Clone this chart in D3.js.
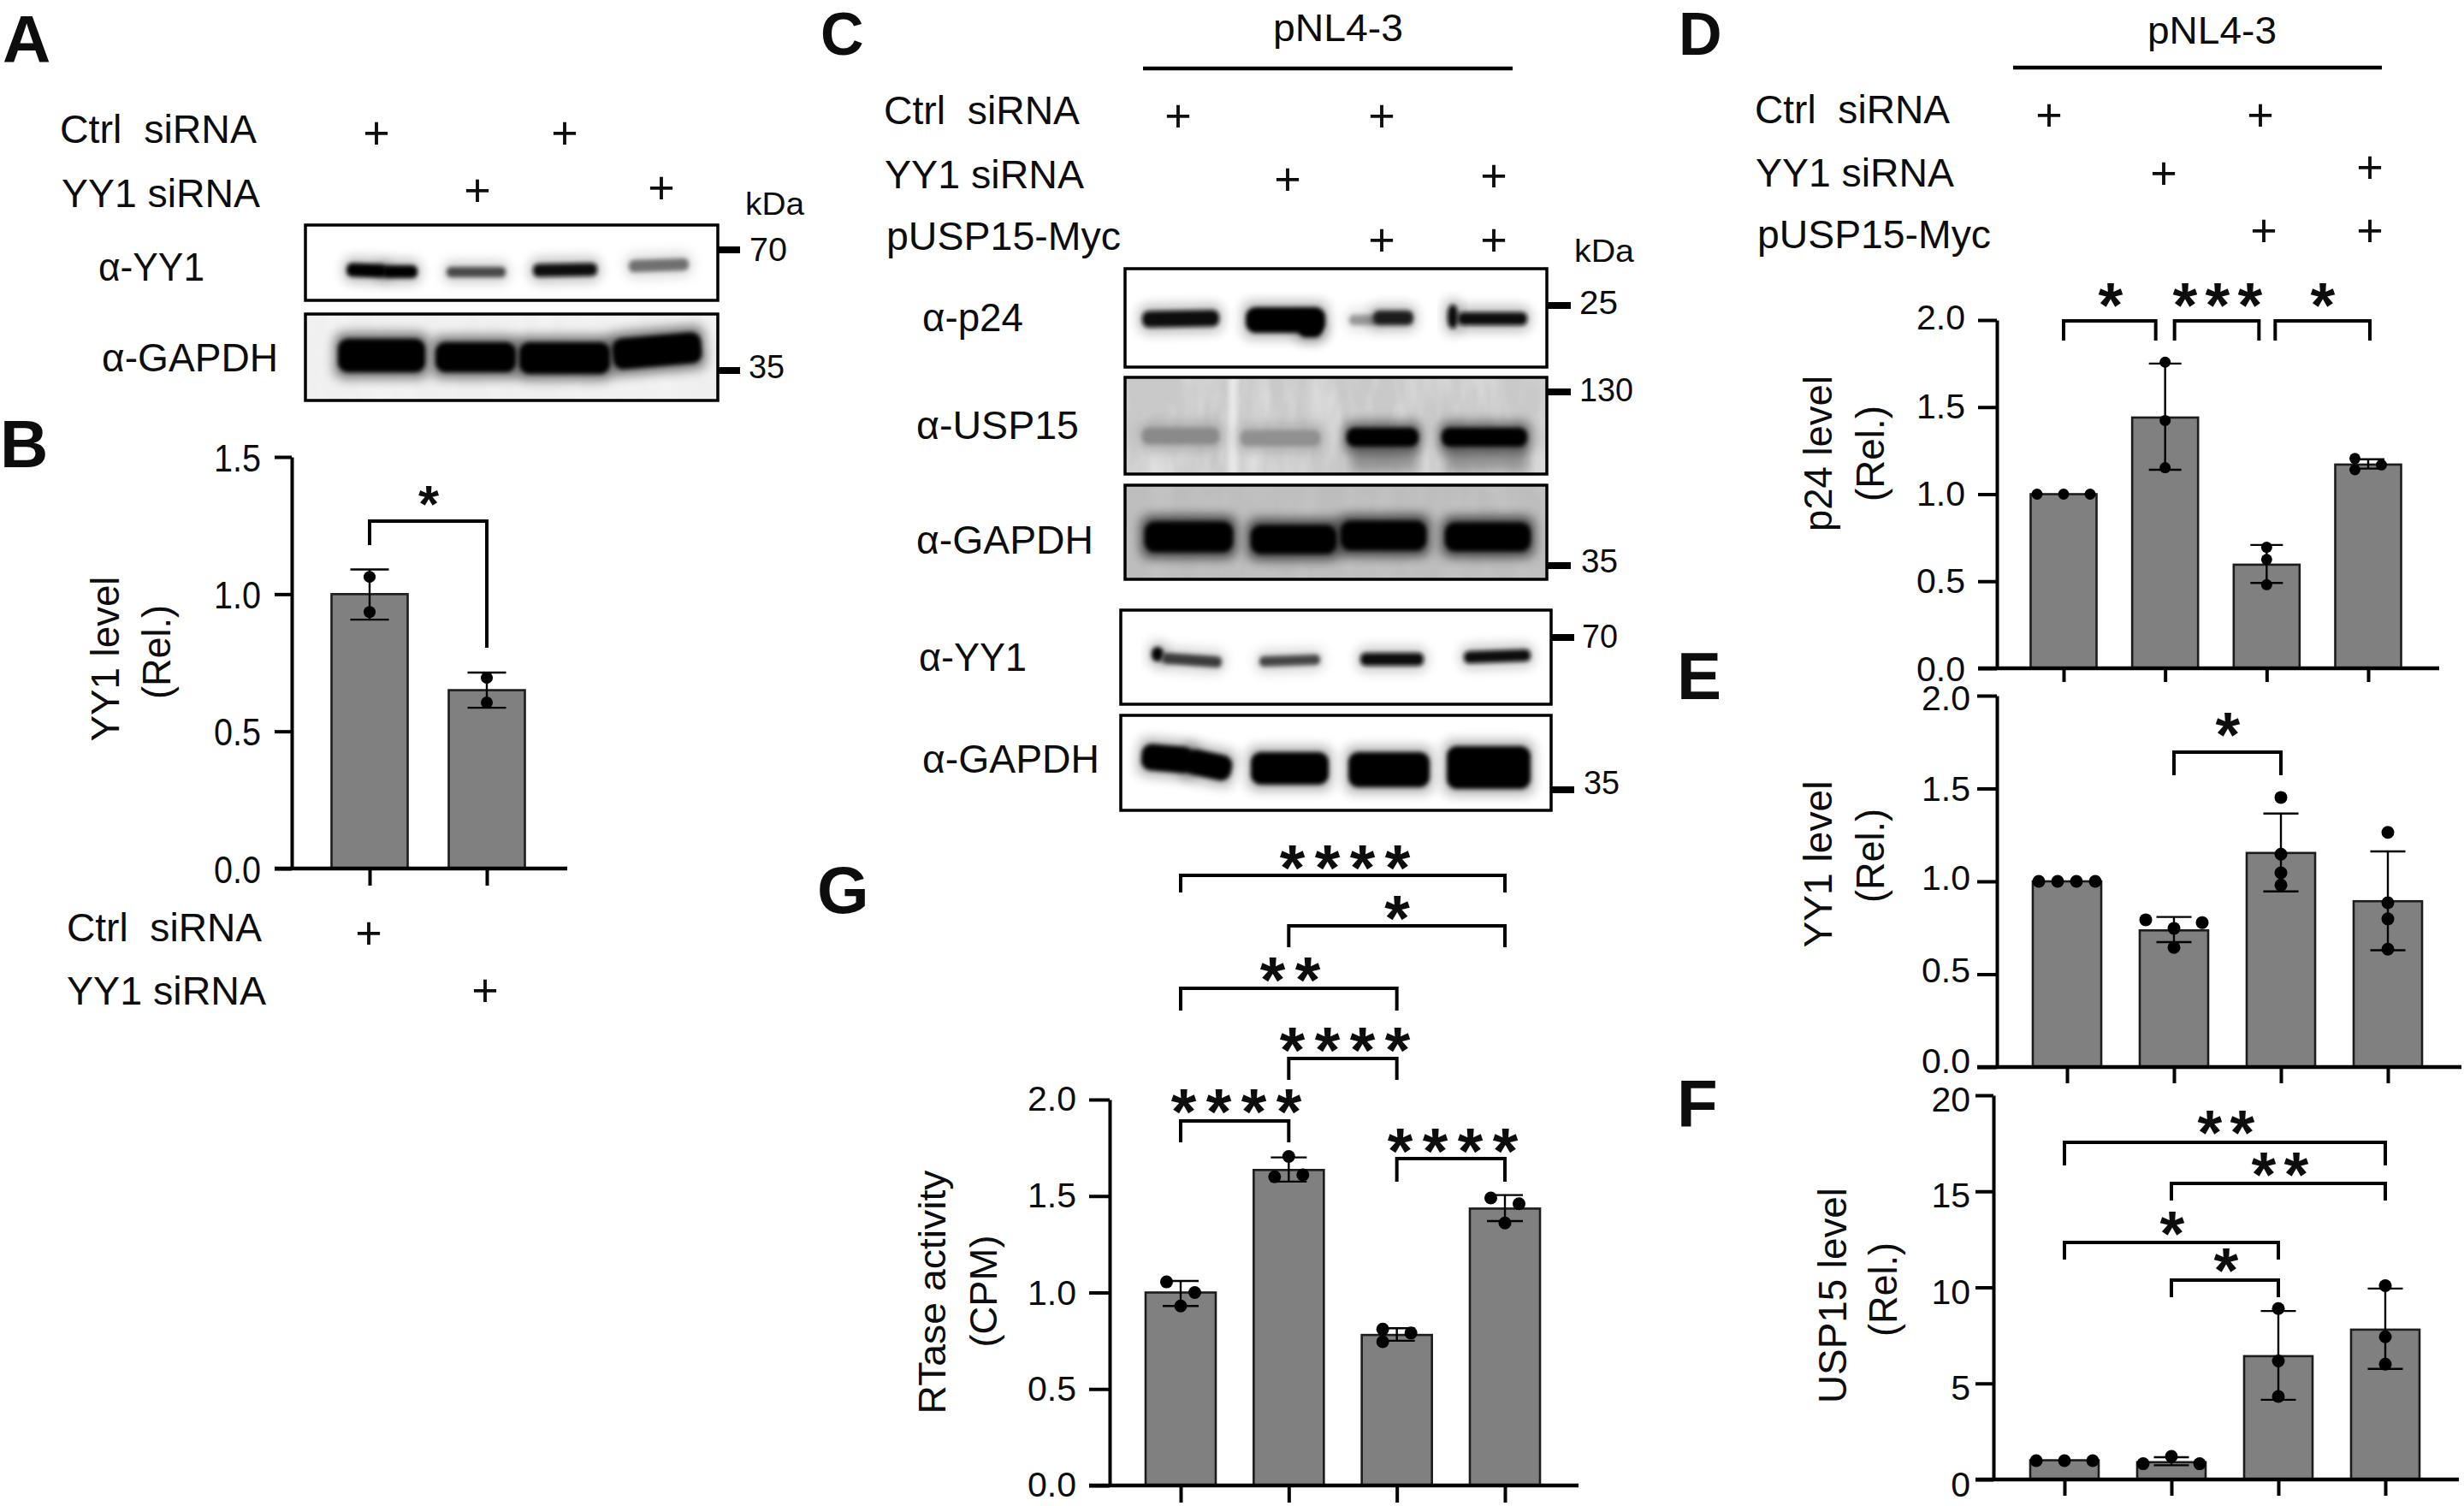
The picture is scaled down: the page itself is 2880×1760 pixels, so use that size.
<!DOCTYPE html>
<html><head><meta charset="utf-8">
<script src="https://cdn.jsdelivr.net/npm/d3@7/dist/d3.min.js"></script>
<style>html,body{margin:0;padding:0;background:#fff}svg{display:block}text{font-family:"Liberation Sans",Arial,sans-serif;fill:#0d0d0d;white-space:pre}</style>
</head><body>
<script>
// ---------- values ----------
const categories = ["Ctrl siRNA","YY1 siRNA","Ctrl + pUSP15","YY1 + pUSP15"];
const bCategories = categories.slice(0,2);

const bBars = [1.0, 0.65];
const bLow  = [0.907, 0.586];
const bHigh = [1.09, 0.714];
const bDots = [[1.063,0.935],[0.695,0.605]];

const dBars = [1.0, 1.44, 0.595, 1.17];
const dLow  = [1.0, 1.14, 0.49, 1.147];
const dHigh = [1.0, 1.75, 0.708, 1.2];
const dDots = [[1,1,1],[1.758,1.423,1.152],[0.695,0.625,0.48],[1.205,1.168,1.14]];
const dSlots = [[-1,0,1],[0,0,0],[0,0,0],[-0.5,0.5,-0.5]];

const eBars = [1.0, 0.736, 1.153, 0.893];
const eLow  = [1.0, 0.673, 0.946, 0.629];
const eHigh = [1.0, 0.808, 1.365, 1.161];
const eDots = [[1,1,1,1],[0.793,0.778,0.747,0.644],[1.452,1.146,1.046,0.98],[1.264,0.885,0.798,0.635]];
const eSlots = [[-1.5,-0.5,0.5,1.5],[-1.5,1.5,0,0],[0,0,0,0],[0,0,0,0]];

const fBars = [1.0, 0.9, 6.42, 7.8];
const fLow  = [1.0, 0.74, 4.15, 5.76];
const fHigh = [1.0, 1.16, 8.77, 9.94];
const fDots = [[0.98,0.98,0.98],[1.2,0.82,0.82],[8.9,6.17,4.32],[10.09,7.43,6.0]];
const fSlots = [[-1,0,1],[0,-1,1],[0,0,0],[0,0,0]];

const gBars = [1.0, 1.635, 0.78, 1.435];
const gLow  = [0.93, 1.575, 0.75, 1.37];
const gHigh = [1.06, 1.70, 0.815, 1.505];
const gDots = [[1.055,1.0,0.93],[1.705,1.6,1.61],[0.81,0.79,0.745],[1.49,1.46,1.36]];
const gSlots = [[-1,1,0],[0,-1,1],[-1,1,-1],[-1,1,0]];

const ticks15 = [0,0.5,1,1.5];
const ticks20 = [0,0.5,1,1.5,2];
const ticksF  = [0,5,10,15,20];

// band darkness per lane, grey value of each western-blot band
const aYY1Tone    = ["#050505","#4a4a4a","#0a0a0a","#707070"];
const cP24Tone    = ["#0c0c0c","#000000","#1a1a1a","#101010"];
const cUSP15Tone  = ["#8a8a8a","#909090","#030303","#050505"];
const cYY1Tone    = ["#3a3a3a","#444444","#0a0a0a","#0c0c0c"];

// ---------- page ----------
const W=2880,H=1760;
const svg=d3.select("body").append("svg").attr("width",W).attr("height",H).attr("viewBox",[0,0,W,H]);
svg.append("rect").attr("width",W).attr("height",H).attr("fill","#fff");
const defs=svg.append("defs");
[[1.6,"b1"],[2.6,"b3"],[7,"b7"],[12,"b12"]].forEach(([s,id])=>{
  defs.append("filter").attr("id",id).attr("x","-40%").attr("y","-80%").attr("width","180%").attr("height","260%")
    .append("feGaussianBlur").attr("stdDeviation",s);
});
const nf=defs.append("filter").attr("id","mottle").attr("x",0).attr("y",0).attr("width","100%").attr("height","100%");
nf.append("feTurbulence").attr("type","fractalNoise").attr("baseFrequency","0.035 0.012").attr("numOctaves",3).attr("seed",7);
nf.append("feColorMatrix").attr("type","matrix").attr("values","0 0 0 0 1  0 0 0 0 1  0 0 0 0 1  1.6 0 0 0 -0.55");

function text(s,x,y,size,width,o={}){
  const t=svg.append("text").attr("x",x).attr("y",y).attr("font-size",size).text(s);
  if(width){t.attr("textLength",width).attr("lengthAdjust","spacingAndGlyphs");}
  if(o.anchor)t.attr("text-anchor",o.anchor);
  if(o.weight)t.attr("font-weight",o.weight);
  return t;
}
function vtext(s,xBase,yCenter,size,length){
  const t=svg.append("text").attr("transform",`translate(${xBase},${yCenter}) rotate(-90)`)
    .attr("text-anchor","middle").attr("font-size",size).text(s);
  if(length)t.attr("textLength",length).attr("lengthAdjust","spacingAndGlyphs");
  return t;
}
function plus(cx,cy){ const fs=54; svg.append("text").attr("x",cx).attr("y",cy+fs*0.352).attr("text-anchor","middle").attr("font-size",fs).text("+"); }
function stars(s,cx,cy,fs,spacing){
  const adv=fs*0.389, ls=spacing-adv;
  svg.append("text").attr("x",cx+ (s.length>1?ls/2:0)).attr("y",cy+fs*0.51).attr("text-anchor","middle")
    .attr("font-size",fs).attr("font-weight","bold").style("letter-spacing",s.length>1?ls+"px":null).text(s);
}
function rule(x0,x1,y,w){ svg.append("line").attr("x1",x0).attr("x2",x1).attr("y1",y).attr("y2",y).attr("stroke","#000").attr("stroke-width",w); }

// ---------- panel letters ----------
[["A",3,73,78],["B",0,546,78],["C",959,63.5,70],["D",1962,63.5,70],["E",1960,817,78],["F",1960,1317,78],["G",955,1067,78]]
 .forEach(([l,x,y,fs])=>text(l,x,y,fs,null,{weight:"bold"}));

// ---------- treatment rows ----------
const rows=[
 ["Ctrl  siRNA",70,167,230],["YY1 siRNA",72,242,232],
 ["Ctrl  siRNA",78,1100,228],["YY1 siRNA",78,1174,233],
 ["Ctrl  siRNA",1033,145,229],["YY1 siRNA",1034,220,233],["pUSP15-Myc",1036,292,274],
 ["Ctrl  siRNA",2051,144,228],["YY1 siRNA",2052,218,232],["pUSP15-Myc",2054,290,273]];
rows.forEach(([s,x,y,w])=>text(s,x,y,46,w));
[[440,155],[660,155],[558,222],[773,219],
 [431,1090],[567,1157],
 [1377,135],[1615,135],[1505,209],[1746,205],[1615,280],[1746,280],
 [2395,134],[2642,134],[2529,202],[2770,195],[2646,269],[2770,269]].forEach(p=>plus(...p));
text("pNL4-3",1488,48,44,152); rule(1336,1768,80,4.5);
text("pNL4-3",2510,51,44,151); rule(2353,2784,79,4.5);

// ---------- blots ----------
const blots=[
 {box:[357,263,839,351],bg:"#ffffff",tone:aYY1Tone,bands:[[405,452,308,324,0,2],[447,488,310,325,0,0],[522,591,312,324,1,0],[623,698,308,323,2,-1],[735,805,303,317,3,-2]],h:.25},
 {box:[357,367,839,468],bg:"#efefef",noise:.35,bands:[[395,497,396,435,"#000",0],[509,603,400,435,"#000",0],[607,713,400,437,"#000",0],[716,820,392,428,"#000",-5]],h:.55},
 {box:[1315,314,1808,429],bg:"#ffffff",tone:cP24Tone,bands:[[1335,1425,363,382,0,-1],[1456,1549,359,389,1,0],[1518,1545,375,394,1,0],[1577,1610,368,380,"#999",0],[1605,1652,363,380,2,0],[1692,1704,356,384,3,0],[1704,1785,365,380,3,0]],h:.28},
 {box:[1315,441,1808,554],bg:"#c9c9c9",noise:.5,streak:[1441,"#e8e8e8"],smear:[[1578,1658,520,552],[1690,1785,520,552]],tone:cUSP15Tone,bands:[[1335,1425,500,519,0,0],[1450,1543,503,521,1,0],[1574,1658,500,522,2,0],[1685,1785,500,522,3,0]],h:.55},
 {box:[1315,567,1808,677],bg:"#bdbdbd",noise:.12,bands:[[1338,1441,610,645,"#000",0],[1462,1562,614,647,"#000",0],[1567,1667,609,643,"#000",0],[1689,1789,611,644,"#000",0]],h:.7},
 {box:[1310,713,1813,823],bg:"#ffffff",tone:cYY1Tone,bands:[[1346,1360,756,773,"#000",0],[1358,1428,765,778,0,4],[1472,1543,766,778,1,-2],[1590,1664,763,778,2,0],[1711,1789,760,774,3,-2]],h:.22},
 {box:[1310,836,1813,947],bg:"#ffffff",bands:[[1334,1395,871,902,"#000",5],[1385,1440,879,909,"#000",12],[1462,1553,879,917,"#000",0],[1576,1671,879,920,"#000",0],[1691,1789,872,922,"#000",0]],h:.3}
];
blots.forEach((b,i)=>{
  const [x0,y0,x1,y1]=b.box;
  defs.append("clipPath").attr("id","clip"+i).append("rect").attr("x",x0).attr("y",y0).attr("width",x1-x0).attr("height",y1-y0);
  const g=svg.append("g").attr("clip-path",`url(#clip${i})`);
  g.append("rect").attr("x",x0).attr("y",y0).attr("width",x1-x0).attr("height",y1-y0).attr("fill",b.bg);
  if(b.noise) g.append("rect").attr("x",x0).attr("y",y0).attr("width",x1-x0).attr("height",y1-y0).attr("filter","url(#mottle)").attr("opacity",b.noise);
  if(b.streak) g.append("rect").attr("x",b.streak[0]-5).attr("y",y0).attr("width",10).attr("height",y1-y0).attr("fill",b.streak[1]).attr("filter","url(#b3)");
  (b.smear||[]).forEach(s=>g.append("rect").attr("x",s[0]).attr("y",s[2]).attr("width",s[1]-s[0]).attr("height",s[3]-s[2]).attr("fill","#777").attr("opacity",.65).attr("filter","url(#b7)"));
  b.bands.forEach(([a,c,d,e,t,rot])=>{
    const fill=typeof t==="number"?b.tone[t]:t, cx=(a+c)/2, cy=(d+e)/2, tr=`rotate(${rot} ${cx} ${cy})`;
    g.append("rect").attr("x",a-4).attr("y",d-7).attr("width",c-a+8).attr("height",e-d+14).attr("rx",10)
      .attr("fill",fill).attr("opacity",b.h).attr("filter","url(#b7)").attr("transform",tr);
    g.append("rect").attr("x",a).attr("y",d).attr("width",c-a).attr("height",e-d).attr("rx",Math.min(12,(e-d)/2.4))
      .attr("fill",fill).attr("filter","url(#b3)").attr("transform",tr);
  });
  svg.append("rect").attr("x",x0).attr("y",y0).attr("width",x1-x0).attr("height",y1-y0).attr("fill","none").attr("stroke","#000").attr("stroke-width",3.5);
});
text("kDa",871,251,37,69); text("kDa",1840,306,37,70);
// molecular-weight markers: label, tick x0, x1, y, text x, text baseline, text width
[["70",839,865,292,876,305,44],["35",839,865,433,875,442,42],
 ["25",1808,1836,357,1846,367,45],["130",1808,1836,458,1846,469,63],["35",1808,1836,661,1848,669,43],
 ["70",1813,1840,745,1849,757,42],["35",1813,1840,923,1851,928,42]].forEach(([s,a,c,y,tx,ty,w])=>{
  rule(a,c,y,8); text(s,tx,ty,38,w);
});

// ---------- bar panels ----------
function panel(p){
  const y=d3.scaleLinear().domain([0,p.max]).range([p.y0,p.yTop]);
  const x=d3.scalePoint().domain(p.cats).range(p.xRange);
  const g=svg.append("g");
  // bars
  g.append("g").selectAll("rect").data(p.bars).join("rect")
    .attr("x",(d,i)=>x(p.cats[i])-p.barW/2).attr("width",p.barW)
    .attr("y",d=>y(d)).attr("height",d=>p.y0-y(d))
    .attr("fill","#808080").attr("stroke","#1c1c1c").attr("stroke-width",2.6);
  // error bars
  p.bars.forEach((b,i)=>{
    if(p.high[i]<=p.low[i]) return;
    const cx=x(p.cats[i]), e=g.append("g").attr("stroke","#000").attr("stroke-width",2.4);
    e.append("line").attr("x1",cx).attr("x2",cx).attr("y1",y(p.low[i])).attr("y2",y(p.high[i]));
    [p.low[i],p.high[i]].forEach(v=>e.append("line").attr("x1",cx-p.capW/2).attr("x2",cx+p.capW/2).attr("y1",y(v)).attr("y2",y(v)));
  });
  // points
  p.dots.forEach((arr,i)=>{
    g.append("g").selectAll("circle").data(arr).join("circle")
      .attr("cx",(d,j)=>x(p.cats[i])+(p.slots?p.slots[i][j]*p.spread:0))
      .attr("cy",d=>y(d)).attr("r",p.r).attr("fill","#000");
  });
  // y axis
  const ya=g.append("g").attr("transform",`translate(${p.xAxis},0)`)
    .call(d3.axisLeft(y).tickValues(p.ticks).tickSize(p.tick).tickPadding(p.pad).tickSizeOuter(0).tickFormat(d3.format(p.fmt)));
  ya.selectAll("path,line").attr("stroke","#000").attr("stroke-width",4);
  ya.selectAll("text").attr("font-size",p.fs).attr("font-family",null).attr("fill","#0d0d0d").attr("dy",null)
    .attr("y",(d,i)=>p.fs*0.358+(p.lab?p.lab[i]:0));
  if(p.labW) ya.selectAll("text").attr("textLength",p.labW).attr("lengthAdjust","spacingAndGlyphs");
  // x axis
  g.append("line").attr("x1",p.xAxis-p.tick).attr("x2",p.xEnd).attr("y1",p.y0).attr("y2",p.y0).attr("stroke","#000").attr("stroke-width",4.5);
  const xa=g.append("g").attr("transform",`translate(0,${p.y0})`).call(d3.axisBottom(x).tickSize(p.tickDown).tickFormat(""));
  xa.select(".domain").remove();
  xa.selectAll("line").attr("stroke","#000").attr("stroke-width",4);
  // y labels
  p.ylab.forEach(([s,xb,yc,len])=>vtext(s,xb,yc,p.lfs,len));
  // significance brackets: from, to, y, left end, right end
  (p.sig||[]).forEach(s=>{
    const a=x(p.cats[s.a])+(s.da||0), c=x(p.cats[s.c])+(s.dc||0);
    g.append("path").attr("d",d3.line()([[a,s.endA],[a,s.y],[c,s.y],[c,s.endC]]))
      .attr("fill","none").attr("stroke","#000").attr("stroke-width",p.sw||4);
    stars(s.t,s.sx,s.sy,p.sfs,p.ssp);
  });
}

panel({cats:bCategories,bars:bBars,low:bLow,high:bHigh,dots:bDots,max:1.5,y0:1015,yTop:534,xAxis:341,xRange:[432,569],xEnd:663,
  barW:89,capW:45,r:7,tick:20,pad:16,fs:45,labW:55,fmt:".1f",ticks:ticks15,tickDown:20,lfs:46,
  ylab:[["YY1 level",139,770,193],["(Rel.)",199,762,110]],sfs:62,ssp:30,sw:4,
  sig:[{t:"*",a:0,c:1,y:609,endA:637,endC:757,sx:501,sy:578}]});

panel({cats:categories,bars:dBars,low:dLow,high:dHigh,dots:dDots,slots:dSlots,spread:31,max:2,y0:781,yTop:374,xAxis:2334,xRange:[2412,2768],xEnd:2851,
  barW:77,capW:38,r:6.5,tick:22,pad:15,fs:41,fmt:".1f",ticks:ticks20,tickDown:16,lfs:45.5,lab:[0,-1,-2,-2,-4],
  ylab:[["p24 level",2141,530,182],["(Rel.)",2202,530,112]],sfs:74,ssp:38,
  sig:[{t:"*",a:0,c:1,dc:-11,y:375,endA:398,endC:398,sx:2467,sy:344},
       {t:"***",a:1,c:2,da:11,dc:-9,y:375,endA:398,endC:398,sx:2592,sy:344},
       {t:"*",a:2,c:3,da:10,dc:2,y:375,endA:398,endC:398,sx:2715,sy:344}]});

panel({cats:categories,bars:eBars,low:eLow,high:eHigh,dots:eDots,slots:eSlots,spread:22,max:2,y0:1247,yTop:813,xAxis:2334,xRange:[2416,2791],xEnd:2877,
  barW:80,capW:41,r:7.5,tick:23,pad:8,fs:41,fmt:".1f",ticks:ticks20,tickDown:19,lfs:45.5,lab:[-8,-6,-5,-1,2],
  ylab:[["YY1 level",2141,1010,195],["(Rel.)",2202,1000,110]],sfs:74,ssp:38,
  sig:[{t:"*",a:1,c:2,y:879,endA:906,endC:906,sx:2604,sy:846}]});

panel({cats:categories,bars:fBars,low:fLow,high:fHigh,dots:fDots,slots:fSlots,spread:33,max:20,y0:1729,yTop:1280,xAxis:2330,xRange:[2413,2788],xEnd:2874,
  barW:80,capW:41,r:7.5,tick:21,pad:6,fs:41,fmt:"d",ticks:ticksF,tickDown:19,lfs:45.5,lab:[5,4,4,4,4],
  ylab:[["USP15 level",2158,1514,252],["(Rel.)",2217,1507,110]],sfs:74,ssp:38,
  sig:[{t:"**",a:0,c:3,y:1335,endA:1362,endC:1362,sx:2602,sy:1311},
       {t:"**",a:1,c:3,y:1383,endA:1403,endC:1403,sx:2665,sy:1360},
       {t:"*",a:0,c:2,y:1452,endA:1472,endC:1472,sx:2539,sy:1429},
       {t:"*",a:1,c:2,y:1496,endA:1516,endC:1516,sx:2602,sy:1472}]});

panel({cats:categories,bars:gBars,low:gLow,high:gHigh,dots:gDots,slots:gSlots,spread:16.5,max:2,y0:1736,yTop:1285,xAxis:1297,xRange:[1380,1759],xEnd:1845,
  barW:82,capW:42,r:7.5,tick:24,pad:15,fs:41,fmt:".1f",ticks:ticks20,tickDown:20,lfs:45,lab:[-2,-1,-1,-2,-2],
  ylab:[["RTase activity",1105,1510,285],["(CPM)",1165,1509,131]],sfs:76,ssp:41,
  sig:[{t:"****",a:0,c:3,y:1023,endA:1043,endC:1043,sx:1572,sy:1001},
       {t:"*",a:1,c:3,y:1082,endA:1107,endC:1107,sx:1633,sy:1060},
       {t:"**",a:0,c:2,y:1155,endA:1181,endC:1181,sx:1508,sy:1132},
       {t:"****",a:1,c:2,y:1237,endA:1262,endC:1262,sx:1572,sy:1214},
       {t:"****",a:0,c:1,y:1310,endA:1335,endC:1335,sx:1445,sy:1286},
       {t:"****",a:2,c:3,y:1354,endA:1381,endC:1381,sx:1698,sy:1332}]});

text("α-YY1",115,328,46,124); text("α-GAPDH",119,434,46,206);
text("α-p24",1078,387,46,118); text("α-USP15",1071,513,46,190); text("α-GAPDH",1071,647,46,207);
text("α-YY1",1074,784,46,126); text("α-GAPDH",1078,903,46,207);
</script>
</body></html>
